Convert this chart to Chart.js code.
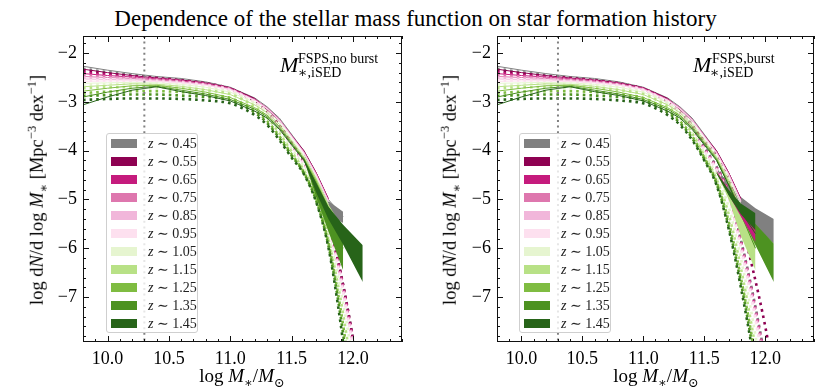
<!DOCTYPE html>
<html>
<head>
<meta charset="utf-8">
<script src="https://cdn.jsdelivr.net/npm/chart.js@4.4.0/dist/chart.umd.min.js"></script>
<style>
body { margin: 0; background: #fff; width: 831px; height: 388px; overflow: hidden; position: relative; font-family: "Liberation Serif", "DejaVu Serif", serif; color: #000; }
canvas { position: absolute; top: 0; }
.abs { position: absolute; white-space: nowrap; }
#title { left: 0; width: 831px; top: 7px; text-align: center; font-size: 23px; line-height: 23px; }
.ytitle { font-size: 18.5px; line-height: 18.5px; transform: translate(-50%, -50%) rotate(-90deg); }
.xtitle { font-size: 19px; line-height: 19px; transform: translateX(-50%); top: 366px; }
sup, sub { font-size: 0.68em; line-height: 0; }
.legend { position: absolute; top: 133px; width: 90px; height: 198px; border: 1px solid #cfcfcf; border-radius: 3px; background: rgba(255,255,255,0.8); }
.row { height: 18px; display: flex; align-items: center; font-size: 14px; color: #222; }
.patch { width: 26px; height: 9px; margin-left: 4px; margin-right: 11px; }
.M { font-size: 22px; line-height: 22px; font-style: italic; }
.ss { font-size: 14px; line-height: 14px; }
</style>
</head>
<body>
<div id="title" class="abs">Dependence of the stellar mass function on star formation history</div>
<canvas id="left" width="415" height="388" style="left:0"></canvas>
<canvas id="right" width="416" height="388" style="left:415px"></canvas>
<div id="overlay"></div>

<script>
// ---- data ----
const zLabels = ['0.45', '0.55', '0.65', '0.75', '0.85', '0.95', '1.05', '1.15', '1.25', '1.35', '1.45'];
const zColors = ['#808080', '#8e0152', '#c51b7d', '#de77ae', '#f1b6da', '#fde0ef', '#e6f5d0', '#b8e186', '#7fbc41', '#4d9221', '#276419'];

const xTicks = [10.0, 10.5, 11.0, 11.5, 12.0];
const yTicks = [-7, -6, -5, -4, -3, -2];
const massLimit = 10.3;

// measured mass functions (solid lines), shared by both panels
const solidMass = [9.8, 10.0, 10.2, 10.4, 10.6, 10.8, 11.0, 11.2, 11.3, 11.4, 11.6, 11.7, 11.8, 11.92];
const solid045 = [-2.27, -2.35, -2.42, -2.48, -2.52, -2.59, -2.70, -2.92, -3.10, -3.33, -4.00, -4.45, -5.00, -5.35];
const solid055 = [-2.33, -2.40, -2.46, -2.51, -2.55, -2.61, -2.71, -2.93, -3.16, -3.38, -4.00, -4.45, -4.98, null];
const solid065 = [-2.42, -2.46, -2.49, -2.53, -2.57, -2.63, -2.72, -2.95, -3.12, -3.36, -4.02, -4.46, -5.00, null];
const solid075 = [-2.48, -2.50, -2.52, -2.55, -2.58, -2.64, -2.73, -2.96, -3.13, -3.37, -4.03, -4.48, -5.02, null];
const solid085 = [-2.53, -2.54, -2.55, -2.57, -2.60, -2.65, -2.74, -2.96, -3.13, -3.37, -4.03, -4.48, -5.02, null];
const solid095 = [-2.58, -2.57, -2.57, -2.58, -2.61, -2.66, -2.75, -2.97, -3.14, -3.38, -4.05, -4.50, -5.05, null];
const solid105 = [-2.62, -2.61, -2.60, -2.61, -2.64, -2.70, -2.80, -3.01, -3.18, -3.42, -4.10, -4.55, -5.10, null];
const solid115 = [-2.69, -2.66, -2.63, -2.64, -2.68, -2.75, -2.85, -3.06, -3.22, -3.46, -4.13, -4.60, -5.20, -5.80];
const solid125 = [-2.78, -2.72, -2.67, -2.66, -2.72, -2.80, -2.91, -3.12, -3.27, -3.50, -4.16, -4.65, -5.25, -5.90];
const solid135 = [-2.90, -2.80, -2.72, -2.68, -2.76, -2.84, -2.95, -3.15, -3.30, -3.53, -4.18, -4.70, -5.30, -6.00];
const solid145 = [-3.06, -2.90, -2.76, -2.69, -2.79, -2.87, -2.98, -3.19, -3.33, -3.56, -4.20, -4.70, -5.25, -5.70];
const solid = [solid045, solid055, solid065, solid075, solid085, solid095, solid105, solid115, solid125, solid135, solid145];

// fitted functions (dotted lines)
const fitMass = [9.8, 10.0, 10.2, 10.4, 10.6, 10.8, 11.0, 11.1, 11.2, 11.3, 11.4, 11.5, 11.6, 11.7, 11.8, 11.9, 12.0, 12.1];
// left panel: no burst
const fitL045 = [-2.32, -2.39, -2.45, -2.50, -2.55, -2.62, -2.73, -2.84, -2.98, -3.18, -3.47, -3.84, -4.20, -4.65, -5.45, -6.50, -7.85, -9.5];
const fitL055 = [-2.36, -2.42, -2.47, -2.51, -2.56, -2.62, -2.73, -2.84, -2.98, -3.18, -3.47, -3.84, -4.20, -4.65, -5.45, -6.50, -7.85, -9.5];
const fitL065 = [-2.40, -2.45, -2.49, -2.53, -2.57, -2.63, -2.74, -2.85, -2.99, -3.20, -3.50, -3.87, -4.24, -4.68, -5.48, -6.55, -7.90, -9.5];
const fitL075 = [-2.45, -2.48, -2.51, -2.54, -2.58, -2.64, -2.74, -2.85, -3.00, -3.20, -3.50, -3.87, -4.25, -4.70, -5.50, -6.58, -7.95, -9.6];
const fitL085 = [-2.50, -2.52, -2.54, -2.56, -2.59, -2.65, -2.75, -2.86, -3.00, -3.21, -3.51, -3.88, -4.26, -4.72, -5.52, -6.60, -8.00, -9.6];
const fitL095 = [-2.56, -2.56, -2.57, -2.58, -2.61, -2.66, -2.76, -2.87, -3.01, -3.22, -3.52, -3.90, -4.28, -4.75, -5.55, -6.65, -8.05, -9.7];
const fitL105 = [-2.65, -2.64, -2.64, -2.65, -2.67, -2.71, -2.80, -2.90, -3.05, -3.27, -3.58, -3.96, -4.34, -4.85, -5.70, -6.85, -8.30, -10];
const fitL115 = [-2.72, -2.70, -2.70, -2.70, -2.72, -2.76, -2.84, -2.95, -3.10, -3.32, -3.64, -4.02, -4.40, -4.92, -5.80, -7.05, -8.60, -10];
const fitL125 = [-2.82, -2.79, -2.78, -2.78, -2.80, -2.84, -2.92, -3.03, -3.18, -3.39, -3.70, -4.07, -4.44, -4.98, -5.88, -7.25, -8.90, -10];
const fitL135 = [-2.88, -2.86, -2.85, -2.85, -2.87, -2.90, -2.97, -3.08, -3.22, -3.43, -3.74, -4.10, -4.46, -5.02, -5.94, -7.40, -9.20, -10];
const fitL145 = [-2.96, -2.94, -2.93, -2.93, -2.94, -2.97, -3.03, -3.13, -3.27, -3.47, -3.78, -4.14, -4.48, -5.05, -5.98, -7.55, -9.50, -10];
// right panel: burst
const fitR045 = [-2.32, -2.39, -2.45, -2.50, -2.55, -2.62, -2.73, -2.84, -2.98, -3.18, -3.47, -3.92, -4.32, -4.82, -5.82, -6.95, -8.30, -10];
const fitR055 = [-2.36, -2.42, -2.47, -2.51, -2.56, -2.62, -2.73, -2.84, -2.99, -3.20, -3.48, -3.80, -4.10, -4.55, -5.45, -6.45, -7.60, -9.0];
const fitR065 = [-2.40, -2.45, -2.49, -2.53, -2.57, -2.63, -2.74, -2.85, -2.99, -3.20, -3.50, -3.95, -4.35, -4.85, -5.85, -7.00, -8.35, -10];
const fitR075 = [-2.45, -2.48, -2.51, -2.54, -2.58, -2.64, -2.74, -2.85, -3.00, -3.20, -3.50, -3.96, -4.37, -4.90, -5.90, -7.05, -8.40, -10];
const fitR085 = [-2.50, -2.52, -2.54, -2.56, -2.59, -2.65, -2.75, -2.86, -3.00, -3.21, -3.51, -3.97, -4.38, -4.92, -5.95, -7.10, -8.50, -10];
const fitR095 = [-2.56, -2.56, -2.57, -2.58, -2.61, -2.66, -2.76, -2.87, -3.01, -3.22, -3.52, -3.99, -4.40, -4.95, -6.00, -7.20, -8.60, -10];
const fitR105 = [-2.65, -2.64, -2.64, -2.65, -2.67, -2.71, -2.80, -2.90, -3.05, -3.27, -3.58, -4.05, -4.50, -5.15, -6.20, -7.50, -9.00, -10];
const fitR115 = [-2.72, -2.70, -2.70, -2.70, -2.72, -2.76, -2.84, -2.95, -3.10, -3.32, -3.64, -4.10, -4.58, -5.30, -6.40, -7.75, -9.30, -10];
const fitR125 = [-2.82, -2.79, -2.78, -2.78, -2.80, -2.84, -2.92, -3.03, -3.18, -3.39, -3.70, -4.14, -4.63, -5.45, -6.60, -7.95, -9.60, -10];
const fitR135 = [-2.88, -2.86, -2.85, -2.85, -2.87, -2.90, -2.97, -3.08, -3.22, -3.43, -3.74, -4.17, -4.67, -5.55, -6.70, -8.10, -9.80, -10];
const fitR145 = [-2.96, -2.94, -2.93, -2.93, -2.94, -2.97, -3.03, -3.13, -3.27, -3.47, -3.78, -4.20, -4.70, -5.60, -6.80, -8.20, -10, -10];

// uncertainty bands at the massive end: [upper, lower]
const bandMassL = [11.6, 11.7, 11.8, 11.92, 12.08];
const bandL045 = [[-4.05, -4.55, -5.03, -5.25, null], [-4.07, -4.75, -5.30, -5.48, null]];
const bandL115 = [[-4.12, -4.55, -5.10, -5.60, null], [-4.14, -4.95, -5.65, -6.38, null]];
const bandL125 = [[-4.14, -4.60, -5.15, -5.60, null], [-4.16, -4.85, -5.50, -6.30, null]];
const bandL135 = [[-4.16, -4.65, -5.15, -5.60, null], [-4.18, -4.95, -5.65, -6.45, null]];
const bandL145 = [[-4.17, -4.65, -5.15, -5.52, -5.94], [-4.19, -4.85, -5.40, -5.92, -6.69]];

const bandMassR = [11.6, 11.7, 11.8, 11.92, 12.07];
const bandR045 = [[-4.35, -4.68, -4.95, -5.18, -5.40], [-4.37, -4.85, -5.20, -5.55, -5.90]];
const bandR065 = [[-4.40, -4.80, -5.15, -5.56, null], [-4.42, -4.90, -5.35, -5.87, null]];
const bandR115 = [[-4.42, -4.80, -5.15, -5.50, null], [-4.44, -5.00, -5.75, -6.45, null]];
const bandR135 = [[-4.44, -4.82, -5.15, -5.50, -5.90], [-4.46, -4.90, -5.30, -5.94, -6.69]];
const bandR145 = [[-4.44, -4.80, -5.08, -5.28, null], [-4.46, -4.92, -5.30, -5.63, null]];

const X_MIN = 9.8, X_MAX = 12.4, Y_MIN = -7.92, Y_MAX = -1.65;
const FONT = '"Liberation Serif", "DejaVu Serif", serif';

function pts(xs, ys) {
    return xs.map((x, i) => ({ x: x, y: ys[i] })).filter(p => p.y !== null);
}

// frame + inward ticks on all four sides
const frameTicks = {
    id: 'frameTicks',
    afterDatasetsDraw(chart) {
        const { ctx, chartArea: a, scales: { x, y } } = chart;
        ctx.save();
        ctx.strokeStyle = '#111';
        ctx.lineWidth = 1;
        ctx.beginPath();
        for (let i = 98; i <= 124; i++) {
            const px = Math.round(x.getPixelForValue(i / 10)) + 0.5;
            const len = i % 5 === 0 ? 6 : 3;
            ctx.moveTo(px, a.bottom); ctx.lineTo(px, a.bottom - len);
            ctx.moveTo(px, a.top); ctx.lineTo(px, a.top + len);
        }
        for (let k = -39; k <= -9; k++) {
            const py = Math.round(y.getPixelForValue(k / 5)) + 0.5;
            const len = k % 5 === 0 ? 6 : 3;
            ctx.moveTo(a.left, py); ctx.lineTo(a.left + len, py);
            ctx.moveTo(a.right, py); ctx.lineTo(a.right - len, py);
        }
        ctx.stroke();
        ctx.strokeRect(Math.round(a.left) + 0.5, Math.round(a.top) + 0.5, Math.round(a.right - a.left) - 1, Math.round(a.bottom - a.top) - 1);
        ctx.restore();
    }
};

// bandRank lets a band be stacked above a later redshift's band
function buildDatasets(fits, bands, bandMass, bandRank) {
    const datasets = [];
    const add = (ds, rank) => { ds.order = 1000 - rank; datasets.push(ds); };
    zLabels.forEach((z, k) => {
        const b = bands[k];
        if (b) {
            const r = (bandRank[k] !== undefined ? bandRank[k] : k) * 10;
            const upperIndex = datasets.length;
            add({ data: pts(bandMass, b[0]), fill: upperIndex + 1, backgroundColor: zColors[k], borderColor: 'transparent', borderWidth: 0, pointRadius: 0 }, r);
            add({ data: pts(bandMass, b[1]), fill: false, borderColor: 'transparent', borderWidth: 0, pointRadius: 0 }, r + 1);
        }
        add({ data: pts(solidMass, solid[k]), borderColor: zColors[k], borderWidth: 1, pointRadius: 0, fill: false }, k * 10 + 2);
        add({ data: pts(fitMass, fits[k]), borderColor: zColors[k], borderWidth: 2.6, borderDash: [2.6, 4], borderCapStyle: 'butt', pointRadius: 0, cubicInterpolationMode: 'monotone', fill: false }, k * 10 + 3);
    });
    datasets.push({ data: [{ x: massLimit, y: Y_MAX }, { x: massLimit, y: Y_MIN }], borderColor: '#808080', borderWidth: 2, borderDash: [2, 3.6], pointRadius: 0, fill: false, order: -1 });
    return datasets;
}

function makeChart(id, fits, bands, bandMass, bandRank, yAxisWidth, padRight) {
    return new Chart(document.getElementById(id), {
        type: 'line',
        data: { datasets: buildDatasets(fits, bands, bandMass, bandRank) },
        options: {
            responsive: false,
            animation: false,
            clip: 0,
            layout: { padding: { top: 36, right: padRight, left: 0, bottom: 0 } },
            plugins: { legend: { display: false }, tooltip: { enabled: false } },
            scales: {
                x: {
                    type: 'linear', min: X_MIN, max: X_MAX,
                    grid: { display: false, drawTicks: false }, border: { display: false },
                    afterBuildTicks: s => { s.ticks = xTicks.map(v => ({ value: v })); },
                    afterFit: s => { s.height = 46; },
                    ticks: { font: { family: FONT, size: 18 }, color: '#000', padding: 6, maxRotation: 0, callback: v => v.toFixed(1) }
                },
                y: {
                    type: 'linear', min: Y_MIN, max: Y_MAX,
                    grid: { display: false, drawTicks: false }, border: { display: false },
                    afterBuildTicks: s => { s.ticks = yTicks.map(v => ({ value: v })); },
                    afterFit: s => { s.width = yAxisWidth; },
                    ticks: { font: { family: FONT, size: 18 }, color: '#000', padding: 6, callback: v => '\u2212' + Math.abs(v) }
                }
            }
        },
        plugins: [frameTicks]
    });
}

makeChart('left', [fitL045, fitL055, fitL065, fitL075, fitL085, fitL095, fitL105, fitL115, fitL125, fitL135, fitL145],
    [bandL045, null, null, null, null, null, null, bandL115, bandL125, bandL135, bandL145], bandMassL, {}, 83, 13);
makeChart('right', [fitR045, fitR055, fitR065, fitR075, fitR085, fitR095, fitR105, fitR115, fitR125, fitR135, fitR145],
    [bandR045, null, bandR065, null, null, null, null, bandR115, null, bandR135, bandR145], bandMassR, { 2: 9.5 }, 82, 17);

// ---- text overlays: axis titles, legends, panel labels ----
const overlay = document.getElementById('overlay');
function addPanelText(offset, xCenter, boxLeft, label, mLeft, supLeft, subLeft) {
    let html = '';
    html += `<div class="abs ytitle" style="left:${offset + 37}px;top:190px">log d<i>N</i>/d log <i>M</i><sub>∗</sub> [Mpc<sup>−3</sup> dex<sup>−1</sup>]</div>`;
    html += `<div class="abs xtitle" style="left:${xCenter}px">log <i>M</i><sub>∗</sub>/<i>M</i><sub>⊙</sub></div>`;
    html += `<div class="legend" style="left:${boxLeft}px">` + zLabels.map((z, k) =>
        `<div class="row"><span class="patch" style="background:${zColors[k]}"></span><span><i>z</i> ∼ ${z}</span></div>`).join('') + '</div>';
    html += `<div class="abs M" style="left:${mLeft}px;top:54px">M</div>`;
    html += `<div class="abs ss" style="left:${supLeft}px;top:51.6px">${label}</div>`;
    html += `<div class="abs ss" style="left:${subLeft}px;top:66px">∗,iSED</div>`;
    overlay.insertAdjacentHTML('beforeend', html);
}
addPanelText(0, 242, 106, 'FSPS,no burst', 280, 298, 298);
addPanelText(413, 656, 519, 'FSPS,burst', 693, 712, 710);
</script>
</body>
</html>
